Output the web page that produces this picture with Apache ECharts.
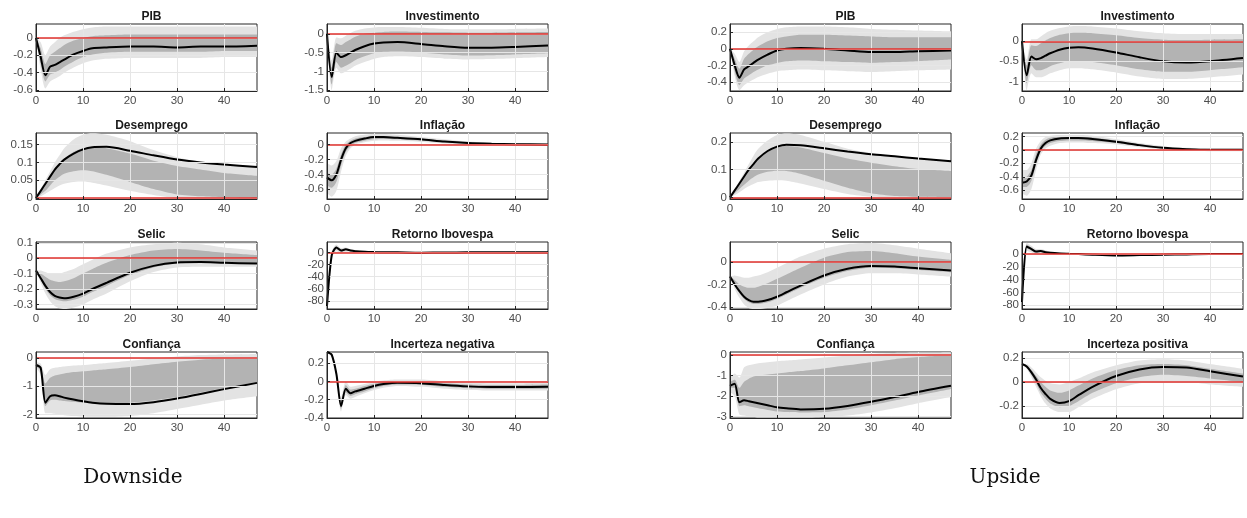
<!DOCTYPE html>
<html>
<head>
<meta charset="utf-8">
<script src="https://cdn.jsdelivr.net/npm/echarts@6/dist/echarts.min.js"></script>
<style>
  html, body { margin: 0; padding: 0; background: #fff; }
  #main { width: 1247px; height: 518px; }
</style>
</head>
<body>
<div id="main"></div>
<script>
// horizontes (eixo x, categorias 0..47) e pontos lidos
const steps = [0, 1, 2, 3, 4, 5, 6, 7, 8, 9, 10, 11, 12, 13, 14, 15, 16, 17, 18, 19, 20, 21, 22, 23,
               24, 25, 26, 27, 28, 29, 30, 31, 32, 33, 34, 35, 36, 37, 38, 39, 40, 41, 42, 43, 44, 45, 46, 47];
const horizons = [0, 1, 2, 3, 4, 5, 6, 8, 10, 12, 15, 20, 25, 30, 35, 40, 47];

// ---------- Downside ----------
// PIB
const dPibMed   = [0, -0.22, -0.43, -0.33, -0.31, -0.28, -0.25, -0.19, -0.15, -0.12, -0.11, -0.10, -0.10, -0.11, -0.10, -0.10, -0.09];
const dPibInHi  = [0, -0.12, -0.30, -0.20, -0.16, -0.12, -0.08, -0.03, 0.0, 0.02, 0.03, 0.04, 0.04, 0.04, 0.04, 0.04, 0.04];
const dPibInLo  = [0, -0.30, -0.50, -0.42, -0.40, -0.37, -0.33, -0.27, -0.22, -0.19, -0.17, -0.16, -0.16, -0.16, -0.16, -0.15, -0.15];
const dPibOutHi = [0, -0.05, -0.20, -0.10, -0.05, 0.0, 0.03, 0.07, 0.10, 0.12, 0.13, 0.13, 0.13, 0.13, 0.13, 0.13, 0.13];
const dPibOutLo = [0, -0.36, -0.58, -0.50, -0.47, -0.44, -0.40, -0.34, -0.29, -0.26, -0.24, -0.23, -0.23, -0.23, -0.23, -0.22, -0.22];
const dPibRange = [-0.61, 0.16];
const dPibTicks = [-0.6, -0.4, -0.2, 0];

// Investimento
const dInvMed   = [0, -1.15, -0.50, -0.62, -0.57, -0.50, -0.43, -0.33, -0.26, -0.23, -0.22, -0.27, -0.33, -0.37, -0.37, -0.35, -0.31];
const dInvInHi  = [0, -0.90, -0.25, -0.30, -0.22, -0.15, -0.08, 0.0, 0.03, 0.05, 0.06, 0.05, 0.04, 0.03, 0.03, 0.04, 0.05];
const dInvInLo  = [0, -1.35, -0.75, -0.90, -0.85, -0.78, -0.70, -0.60, -0.52, -0.48, -0.47, -0.50, -0.55, -0.58, -0.57, -0.55, -0.52];
const dInvOutHi = [0, -0.70, -0.10, -0.12, -0.05, 0.02, 0.08, 0.14, 0.17, 0.18, 0.18, 0.16, 0.13, 0.12, 0.12, 0.13, 0.14];
const dInvOutLo = [0, -1.50, -0.90, -1.05, -1.00, -0.93, -0.85, -0.75, -0.67, -0.62, -0.60, -0.62, -0.66, -0.68, -0.67, -0.65, -0.62];
const dInvRange = [-1.52, 0.26];
const dInvTicks = [-1.5, -1, -0.5, 0];

// Desemprego
const dDesMed   = [0, 0.02, 0.04, 0.06, 0.08, 0.095, 0.108, 0.125, 0.137, 0.143, 0.144, 0.133, 0.12, 0.108, 0.10, 0.094, 0.087];
const dDesInHi  = [0, 0.02, 0.04, 0.06, 0.08, 0.096, 0.11, 0.13, 0.14, 0.143, 0.14, 0.125, 0.105, 0.09, 0.08, 0.07, 0.062];
const dDesInLo  = [0, 0.01, 0.02, 0.035, 0.05, 0.06, 0.068, 0.075, 0.078, 0.075, 0.065, 0.045, 0.025, 0.01, 0.005, 0.002, 0.0];
const dDesOutHi = [0, 0.025, 0.05, 0.075, 0.10, 0.12, 0.14, 0.165, 0.178, 0.182, 0.178, 0.16, 0.135, 0.115, 0.10, 0.092, 0.087];
const dDesOutLo = [0, 0.005, 0.012, 0.02, 0.028, 0.035, 0.04, 0.045, 0.046, 0.043, 0.035, 0.02, 0.008, 0.0, 0, 0, 0];
const dDesRange = [-0.003, 0.183];
const dDesTicks = [0, 0.05, 0.1, 0.15];

// Inflação
const dInfMed   = [-0.44, -0.48, -0.40, -0.20, -0.05, 0.02, 0.05, 0.08, 0.10, 0.10, 0.09, 0.07, 0.04, 0.02, 0.01, 0.005, 0.0];
const dInfInHi  = [-0.38, -0.40, -0.32, -0.13, 0.0, 0.05, 0.08, 0.10, 0.11, 0.11, 0.10, 0.08, 0.05, 0.03, 0.015, 0.01, 0.005];
const dInfInLo  = [-0.55, -0.58, -0.50, -0.28, -0.10, -0.02, 0.02, 0.05, 0.07, 0.075, 0.07, 0.05, 0.03, 0.01, 0.0, -0.005, -0.01];
const dInfOutHi = [-0.25, -0.28, -0.22, -0.05, 0.04, 0.08, 0.11, 0.13, 0.14, 0.14, 0.13, 0.10, 0.07, 0.04, 0.025, 0.015, 0.01];
const dInfOutLo = [-0.65, -0.70, -0.62, -0.36, -0.15, -0.05, 0.0, 0.03, 0.05, 0.055, 0.05, 0.035, 0.015, 0.0, -0.01, -0.015, -0.02];
const dInfRange = [-0.73, 0.155];
const dInfTicks = [-0.6, -0.4, -0.2, 0];

// Selic
const dSelMed   = [-0.08, -0.13, -0.18, -0.22, -0.245, -0.255, -0.26, -0.25, -0.23, -0.20, -0.16, -0.095, -0.05, -0.028, -0.025, -0.03, -0.035];
const dSelInHi  = [-0.08, -0.10, -0.12, -0.14, -0.15, -0.155, -0.15, -0.13, -0.10, -0.07, -0.03, 0.02, 0.05, 0.06, 0.05, 0.035, 0.02];
const dSelInLo  = [-0.08, -0.14, -0.20, -0.24, -0.265, -0.275, -0.28, -0.27, -0.25, -0.22, -0.18, -0.11, -0.06, -0.035, -0.03, -0.03, -0.035];
const dSelOutHi = [-0.08, -0.08, -0.09, -0.10, -0.10, -0.10, -0.09, -0.07, -0.04, -0.01, 0.03, 0.07, 0.09, 0.10, 0.09, 0.07, 0.05];
const dSelOutLo = [-0.08, -0.16, -0.23, -0.28, -0.31, -0.325, -0.33, -0.32, -0.30, -0.27, -0.23, -0.15, -0.09, -0.06, -0.055, -0.055, -0.055];
const dSelRange = [-0.33, 0.105];
const dSelTicks = [-0.3, -0.2, -0.1, 0, 0.1];

// Retorno Ibovespa
const dIboMed   = [-88, -5, 8, 3, 5, 3, 2, 1, 0.5, 0.2, 0, -0.5, -0.3, 0, 0, 0, 0];
const dIboInHi  = [-85, -2, 10, 5, 6, 4, 3, 1.5, 1, 0.5, 0.3, 0, 0, 0.2, 0.2, 0.2, 0.2];
const dIboInLo  = [-91, -8, 5, 1, 3, 2, 1, 0.5, 0, -0.2, -0.3, -0.8, -0.6, -0.3, -0.2, -0.2, -0.2];
const dIboOutHi = [-82, 1, 13, 7, 8, 5, 4, 2.5, 1.5, 1, 0.8, 0.5, 0.5, 0.6, 0.5, 0.5, 0.5];
const dIboOutLo = [-93, -11, 2, -1, 1, 0.5, 0, -0.5, -0.5, -0.6, -0.8, -1.2, -1, -0.7, -0.6, -0.5, -0.5];
const dIboRange = [-93, 17];
const dIboTicks = [-80, -60, -40, -20, 0];

// Confiança
const dConMed   = [-0.25, -0.35, -1.58, -1.35, -1.32, -1.35, -1.40, -1.47, -1.53, -1.58, -1.62, -1.63, -1.56, -1.43, -1.27, -1.10, -0.88];
const dConInHi  = [-0.20, -0.30, -0.90, -0.70, -0.62, -0.58, -0.55, -0.50, -0.47, -0.44, -0.40, -0.32, -0.22, -0.13, -0.06, -0.02, 0.0];
const dConInLo  = [-0.30, -0.45, -1.70, -1.50, -1.48, -1.50, -1.52, -1.55, -1.58, -1.60, -1.60, -1.58, -1.50, -1.38, -1.22, -1.06, -0.85];
const dConOutHi = [-0.15, -0.20, -0.60, -0.40, -0.35, -0.32, -0.30, -0.27, -0.25, -0.22, -0.18, -0.10, -0.02, 0.05, 0.10, 0.12, 0.14];
const dConOutLo = [-0.35, -0.60, -1.95, -1.95, -1.97, -2.00, -2.02, -2.05, -2.07, -2.08, -2.08, -2.05, -1.95, -1.80, -1.65, -1.50, -1.35];
const dConRange = [-2.12, 0.21];
const dConTicks = [-2, -1, 0];

// Incerteza negativa
const dIncMed   = [0.32, 0.29, 0.08, -0.27, -0.08, -0.13, -0.11, -0.08, -0.05, -0.03, -0.015, -0.02, -0.04, -0.055, -0.062, -0.063, -0.06];
const dIncInHi  = [0.32, 0.30, 0.10, -0.22, -0.04, -0.09, -0.08, -0.05, -0.025, -0.01, 0.005, 0.0, -0.02, -0.035, -0.04, -0.04, -0.035];
const dIncInLo  = [0.32, 0.28, 0.06, -0.30, -0.12, -0.16, -0.14, -0.11, -0.075, -0.05, -0.035, -0.04, -0.06, -0.075, -0.08, -0.08, -0.08];
const dIncOutHi = [0.32, 0.31, 0.12, -0.18, 0.0, -0.06, -0.05, -0.03, -0.005, 0.01, 0.02, 0.02, 0.0, -0.015, -0.02, -0.02, -0.015];
const dIncOutLo = [0.32, 0.27, 0.04, -0.33, -0.15, -0.19, -0.17, -0.13, -0.095, -0.07, -0.05, -0.06, -0.08, -0.095, -0.10, -0.10, -0.10];
const dIncRange = [-0.4, 0.32];
const dIncTicks = [-0.4, -0.2, 0, 0.2];

// ---------- Upside ----------
// PIB
const uPibMed   = [0, -0.20, -0.35, -0.25, -0.21, -0.17, -0.13, -0.07, -0.02, 0.0, 0.01, 0.0, -0.02, -0.04, -0.04, -0.03, -0.02];
const uPibInHi  = [0, -0.12, -0.24, -0.12, -0.06, -0.01, 0.03, 0.09, 0.13, 0.15, 0.17, 0.17, 0.16, 0.15, 0.14, 0.14, 0.14];
const uPibInLo  = [0, -0.27, -0.44, -0.36, -0.32, -0.28, -0.25, -0.20, -0.17, -0.15, -0.14, -0.15, -0.16, -0.17, -0.16, -0.15, -0.13];
const uPibOutHi = [0, -0.06, -0.16, -0.03, 0.04, 0.09, 0.14, 0.20, 0.24, 0.26, 0.27, 0.27, 0.26, 0.24, 0.23, 0.22, 0.21];
const uPibOutLo = [0, -0.33, -0.50, -0.44, -0.40, -0.37, -0.34, -0.30, -0.27, -0.26, -0.25, -0.26, -0.27, -0.28, -0.27, -0.26, -0.25];
const uPibRange = [-0.51, 0.30];
const uPibTicks = [-0.4, -0.2, 0, 0.2];

// Investimento
const uInvMed   = [0, -0.85, -0.38, -0.45, -0.42, -0.36, -0.30, -0.21, -0.16, -0.15, -0.18, -0.28, -0.40, -0.50, -0.53, -0.50, -0.42];
const uInvInHi  = [0, -0.60, -0.10, -0.12, -0.05, 0.02, 0.08, 0.16, 0.20, 0.21, 0.20, 0.15, 0.08, 0.04, 0.03, 0.04, 0.05];
const uInvInLo  = [0, -1.05, -0.60, -0.72, -0.72, -0.68, -0.62, -0.55, -0.50, -0.50, -0.52, -0.60, -0.70, -0.76, -0.76, -0.72, -0.65];
const uInvOutHi = [0, -0.45, 0.05, 0.05, 0.12, 0.20, 0.26, 0.33, 0.37, 0.38, 0.37, 0.32, 0.25, 0.20, 0.18, 0.18, 0.18];
const uInvOutLo = [0, -1.22, -0.80, -0.90, -0.90, -0.86, -0.80, -0.72, -0.67, -0.67, -0.70, -0.78, -0.88, -0.94, -0.94, -0.90, -0.83];
const uInvRange = [-1.24, 0.43];
const uInvTicks = [-1, -0.5, 0];

// Desemprego
const uDesMed   = [0, 0.025, 0.05, 0.075, 0.10, 0.12, 0.14, 0.167, 0.183, 0.19, 0.188, 0.177, 0.165, 0.155, 0.148, 0.14, 0.13];
const uDesInHi  = [0, 0.025, 0.05, 0.075, 0.10, 0.12, 0.14, 0.165, 0.18, 0.185, 0.18, 0.16, 0.14, 0.125, 0.112, 0.102, 0.095];
const uDesInLo  = [0, 0.015, 0.03, 0.045, 0.06, 0.072, 0.082, 0.092, 0.096, 0.095, 0.085, 0.06, 0.035, 0.015, 0.005, 0.002, 0.0];
const uDesOutHi = [0, 0.03, 0.06, 0.09, 0.12, 0.15, 0.175, 0.205, 0.225, 0.23, 0.225, 0.20, 0.175, 0.16, 0.15, 0.14, 0.13];
const uDesOutLo = [0, 0.008, 0.018, 0.03, 0.04, 0.048, 0.055, 0.06, 0.062, 0.06, 0.05, 0.03, 0.012, 0.002, 0, 0, 0];
const uDesRange = [-0.006, 0.232];
const uDesTicks = [0, 0.1, 0.2];

// Inflação
const uInfMed   = [-0.49, -0.47, -0.38, -0.15, 0.02, 0.10, 0.14, 0.17, 0.175, 0.175, 0.16, 0.12, 0.07, 0.03, 0.01, 0.0, 0.0];
const uInfInHi  = [-0.42, -0.40, -0.30, -0.06, 0.08, 0.15, 0.18, 0.20, 0.20, 0.20, 0.185, 0.14, 0.085, 0.04, 0.02, 0.01, 0.01];
const uInfInLo  = [-0.55, -0.55, -0.46, -0.22, -0.02, 0.06, 0.10, 0.13, 0.14, 0.14, 0.13, 0.10, 0.055, 0.02, 0.0, -0.01, -0.01];
const uInfOutHi = [-0.30, -0.30, -0.20, 0.02, 0.13, 0.19, 0.21, 0.22, 0.22, 0.22, 0.21, 0.16, 0.10, 0.055, 0.03, 0.02, 0.02];
const uInfOutLo = [-0.65, -0.68, -0.58, -0.30, -0.07, 0.02, 0.06, 0.10, 0.11, 0.11, 0.10, 0.08, 0.04, 0.01, -0.01, -0.02, -0.02];
const uInfRange = [-0.73, 0.25];
const uInfTicks = [-0.6, -0.4, -0.2, 0, 0.2];

// Selic
const uSelMed   = [-0.13, -0.20, -0.26, -0.31, -0.34, -0.355, -0.355, -0.34, -0.31, -0.27, -0.21, -0.12, -0.06, -0.035, -0.04, -0.055, -0.075];
const uSelInHi  = [-0.13, -0.16, -0.20, -0.22, -0.23, -0.23, -0.22, -0.19, -0.15, -0.11, -0.05, 0.04, 0.09, 0.10, 0.08, 0.05, 0.02];
const uSelInLo  = [-0.13, -0.21, -0.28, -0.33, -0.36, -0.375, -0.375, -0.36, -0.33, -0.29, -0.23, -0.14, -0.08, -0.05, -0.055, -0.07, -0.09];
const uSelOutHi = [-0.13, -0.12, -0.13, -0.14, -0.14, -0.13, -0.12, -0.09, -0.05, -0.01, 0.05, 0.12, 0.16, 0.17, 0.15, 0.12, 0.08];
const uSelOutLo = [-0.13, -0.24, -0.32, -0.38, -0.41, -0.42, -0.42, -0.41, -0.39, -0.35, -0.29, -0.20, -0.13, -0.10, -0.10, -0.11, -0.13];
const uSelRange = [-0.42, 0.18];
const uSelTicks = [-0.4, -0.2, 0];

// Retorno Ibovespa
const uIboMed   = [-75, 12, 8, 4, 5, 3, 2, 1, 0.5, 0, -1, -2, -1.5, -1, -0.5, 0, 0];
const uIboInHi  = [-72, 15, 10, 6, 6, 4, 3, 2, 1, 0.5, -0.3, -1, -0.8, -0.3, 0, 0.3, 0.3];
const uIboInLo  = [-78, 9, 6, 2, 3, 2, 1, 0, 0, -0.5, -1.7, -3, -2.3, -1.6, -1, -0.4, -0.3];
const uIboOutHi = [-68, 18, 13, 8, 8, 6, 4, 3, 2, 1, 0.3, -0.3, 0, 0.4, 0.6, 0.8, 0.8];
const uIboOutLo = [-82, 5, 3, 0, 1, 0, -0.5, -1, -1, -1.5, -2.5, -4, -3.2, -2.3, -1.6, -0.9, -0.7];
const uIboRange = [-86, 19];
const uIboTicks = [-80, -60, -40, -20, 0];

// Confiança
const uConMed   = [-1.5, -1.4, -2.3, -2.2, -2.25, -2.3, -2.35, -2.45, -2.55, -2.6, -2.65, -2.62, -2.48, -2.28, -2.05, -1.8, -1.5];
const uConInHi  = [-1.3, -1.2, -1.6, -1.3, -1.15, -1.05, -1.0, -0.95, -0.9, -0.85, -0.78, -0.65, -0.5, -0.35, -0.2, -0.1, 0.0];
const uConInLo  = [-1.6, -1.6, -2.5, -2.45, -2.5, -2.55, -2.6, -2.68, -2.75, -2.78, -2.8, -2.78, -2.65, -2.45, -2.22, -1.97, -1.65];
const uConOutHi = [-1.1, -0.9, -1.1, -0.6, -0.5, -0.45, -0.4, -0.35, -0.3, -0.27, -0.22, -0.12, -0.02, 0.05, 0.1, 0.12, 0.14];
const uConOutLo = [-1.8, -2.0, -2.9, -2.95, -3.0, -3.02, -3.05, -3.05, -3.05, -3.05, -3.05, -3.02, -2.95, -2.8, -2.6, -2.35, -2.05];
const uConRange = [-3.07, 0.15];
const uConTicks = [-3, -2, -1, 0];

// Incerteza positiva
const uIncMed   = [0.15, 0.13, 0.08, 0.02, -0.05, -0.10, -0.14, -0.175, -0.16, -0.11, -0.04, 0.05, 0.105, 0.125, 0.12, 0.09, 0.045];
const uIncInHi  = [0.15, 0.14, 0.10, 0.05, 0.0, -0.04, -0.07, -0.09, -0.07, -0.03, 0.03, 0.10, 0.14, 0.15, 0.14, 0.11, 0.07];
const uIncInLo  = [0.15, 0.12, 0.06, -0.01, -0.09, -0.14, -0.18, -0.21, -0.20, -0.16, -0.09, -0.01, 0.04, 0.06, 0.05, 0.03, 0.0];
const uIncOutHi = [0.15, 0.15, 0.12, 0.08, 0.04, 0.01, -0.01, -0.02, 0.0, 0.03, 0.08, 0.14, 0.18, 0.19, 0.18, 0.15, 0.11];
const uIncOutLo = [0.15, 0.11, 0.04, -0.04, -0.12, -0.18, -0.22, -0.25, -0.25, -0.21, -0.14, -0.06, -0.01, 0.0, 0.0, -0.02, -0.04];
const uIncRange = [-0.3, 0.25];
const uIncTicks = [-0.2, 0, 0.2];

// layout dos painéis (pixels)
const colLeft = [36, 327, 730, 1022];
const rowTop = [24, 133, 242, 352];
const rowH = [67, 66, 67, 66];
const plotW = 221;

const LIGHT = '#e3e3e3';
const DARK = '#b3b3b3';
const RED = '#e0302c';
const SMOOTH = 0.25;

const panels = [
  { c: 0, r: 0, t: 'PIB', med: dPibMed, inHi: dPibInHi, inLo: dPibInLo, outHi: dPibOutHi, outLo: dPibOutLo, range: dPibRange, ticks: dPibTicks },
  { c: 1, r: 0, t: 'Investimento', med: dInvMed, inHi: dInvInHi, inLo: dInvInLo, outHi: dInvOutHi, outLo: dInvOutLo, range: dInvRange, ticks: dInvTicks },
  { c: 0, r: 1, t: 'Desemprego', med: dDesMed, inHi: dDesInHi, inLo: dDesInLo, outHi: dDesOutHi, outLo: dDesOutLo, range: dDesRange, ticks: dDesTicks },
  { c: 1, r: 1, t: 'Inflação', med: dInfMed, inHi: dInfInHi, inLo: dInfInLo, outHi: dInfOutHi, outLo: dInfOutLo, range: dInfRange, ticks: dInfTicks },
  { c: 0, r: 2, t: 'Selic', med: dSelMed, inHi: dSelInHi, inLo: dSelInLo, outHi: dSelOutHi, outLo: dSelOutLo, range: dSelRange, ticks: dSelTicks },
  { c: 1, r: 2, t: 'Retorno Ibovespa', med: dIboMed, inHi: dIboInHi, inLo: dIboInLo, outHi: dIboOutHi, outLo: dIboOutLo, range: dIboRange, ticks: dIboTicks },
  { c: 0, r: 3, t: 'Confiança', med: dConMed, inHi: dConInHi, inLo: dConInLo, outHi: dConOutHi, outLo: dConOutLo, range: dConRange, ticks: dConTicks },
  { c: 1, r: 3, t: 'Incerteza negativa', med: dIncMed, inHi: dIncInHi, inLo: dIncInLo, outHi: dIncOutHi, outLo: dIncOutLo, range: dIncRange, ticks: dIncTicks },
  { c: 2, r: 0, t: 'PIB', med: uPibMed, inHi: uPibInHi, inLo: uPibInLo, outHi: uPibOutHi, outLo: uPibOutLo, range: uPibRange, ticks: uPibTicks },
  { c: 3, r: 0, t: 'Investimento', med: uInvMed, inHi: uInvInHi, inLo: uInvInLo, outHi: uInvOutHi, outLo: uInvOutLo, range: uInvRange, ticks: uInvTicks },
  { c: 2, r: 1, t: 'Desemprego', med: uDesMed, inHi: uDesInHi, inLo: uDesInLo, outHi: uDesOutHi, outLo: uDesOutLo, range: uDesRange, ticks: uDesTicks },
  { c: 3, r: 1, t: 'Inflação', med: uInfMed, inHi: uInfInHi, inLo: uInfInLo, outHi: uInfOutHi, outLo: uInfOutLo, range: uInfRange, ticks: uInfTicks },
  { c: 2, r: 2, t: 'Selic', med: uSelMed, inHi: uSelInHi, inLo: uSelInLo, outHi: uSelOutHi, outLo: uSelOutLo, range: uSelRange, ticks: uSelTicks },
  { c: 3, r: 2, t: 'Retorno Ibovespa', med: uIboMed, inHi: uIboInHi, inLo: uIboInLo, outHi: uIboOutHi, outLo: uIboOutLo, range: uIboRange, ticks: uIboTicks },
  { c: 2, r: 3, t: 'Confiança', med: uConMed, inHi: uConInHi, inLo: uConInLo, outHi: uConOutHi, outLo: uConOutLo, range: uConRange, ticks: uConTicks },
  { c: 3, r: 3, t: 'Incerteza positiva', med: uIncMed, inHi: uIncInHi, inLo: uIncInLo, outHi: uIncOutHi, outLo: uIncOutLo, range: uIncRange, ticks: uIncTicks }
];

function pairs(arr) {
  return horizons.map((h, i) => [h, arr[i]]);
}
// largura da banda, empilhada sobre o limite inferior
function width(hi, lo) {
  return horizons.map((h, i) => [h, +(hi[i] - lo[i]).toFixed(5)]);
}

const grids = [], xAxes = [], yAxes = [], series = [], titles = [];
const labelStyle = { color: '#4d4d4d', fontSize: 11.5, fontFamily: 'Liberation Sans, Arial, sans-serif' };
const gridLine = { show: true, lineStyle: { color: '#e6e6e6', width: 1 } };

panels.forEach((p, i) => {
  const left = colLeft[p.c], top = rowTop[p.r];
  grids.push({ left: left, top: top, width: plotW, height: rowH[p.r], show: true, borderColor: '#262626', borderWidth: 1, backgroundColor: '#fff' });
  xAxes.push({
    type: 'category', gridIndex: i, data: steps, boundaryGap: false, z: 5,
    axisLine: { show: true, onZero: false, lineStyle: { color: '#262626', width: 1 } },
    axisTick: { show: true, inside: true, length: 3, interval: 9, lineStyle: { color: '#262626' } },
    axisLabel: Object.assign({ margin: 4, interval: 9 }, labelStyle),
    splitLine: Object.assign({ interval: 9 }, gridLine)
  });
  yAxes.push({
    type: 'value', gridIndex: i, min: p.range[0], max: p.range[1], z: 5,
    axisLine: { show: true, onZero: false, lineStyle: { color: '#262626', width: 1 } },
    axisTick: { show: true, inside: true, length: 3, customValues: p.ticks, lineStyle: { color: '#262626' } },
    axisLabel: Object.assign({ margin: 3, customValues: p.ticks }, labelStyle),
    splitLine: gridLine
  });
  const common = { type: 'line', xAxisIndex: i, yAxisIndex: i, symbol: 'none', smooth: SMOOTH, silent: true, stackStrategy: 'all' };
  series.push(Object.assign({}, common, { data: pairs(p.outLo), stack: 'out' + i, lineStyle: { opacity: 0 } }));
  series.push(Object.assign({}, common, { data: width(p.outHi, p.outLo), stack: 'out' + i, lineStyle: { opacity: 0 }, areaStyle: { color: LIGHT, opacity: 1 } }));
  series.push(Object.assign({}, common, { data: pairs(p.inLo), stack: 'in' + i, lineStyle: { opacity: 0 } }));
  series.push(Object.assign({}, common, { data: width(p.inHi, p.inLo), stack: 'in' + i, lineStyle: { opacity: 0 }, areaStyle: { color: DARK, opacity: 1 } }));
  series.push({
    type: 'line', xAxisIndex: i, yAxisIndex: i, symbol: 'none', smooth: SMOOTH, silent: true, z: 3,
    data: pairs(p.med),
    lineStyle: { color: '#000', width: 2 },
    markLine: {
      silent: true, symbol: 'none', label: { show: false },
      lineStyle: { color: RED, width: 1.5, type: 'solid' },
      data: [{ yAxis: 0 }]
    }
  });
  titles.push({
    text: p.t, left: left + plotW / 2, top: top - 18, textAlign: 'center',
    textStyle: { fontSize: 12, fontWeight: 'bold', color: '#1a1a1a', fontFamily: 'Liberation Sans, Arial, sans-serif' }
  });
});

titles.push({ text: 'Downside', left: 128, top: 463, textAlign: 'center', textStyle: { fontSize: 20, fontWeight: 'normal', color: '#111', fontFamily: 'DejaVu Serif, serif' } });
titles.push({ text: 'Upside', left: 1000, top: 463, textAlign: 'center', textStyle: { fontSize: 20, fontWeight: 'normal', color: '#111', fontFamily: 'DejaVu Serif, serif' } });

const myChart = echarts.init(document.getElementById('main'));
myChart.setOption({
  animation: false,
  backgroundColor: '#fff',
  title: titles,
  grid: grids,
  xAxis: xAxes,
  yAxis: yAxes,
  series: series
});
</script>
</body>
</html>
